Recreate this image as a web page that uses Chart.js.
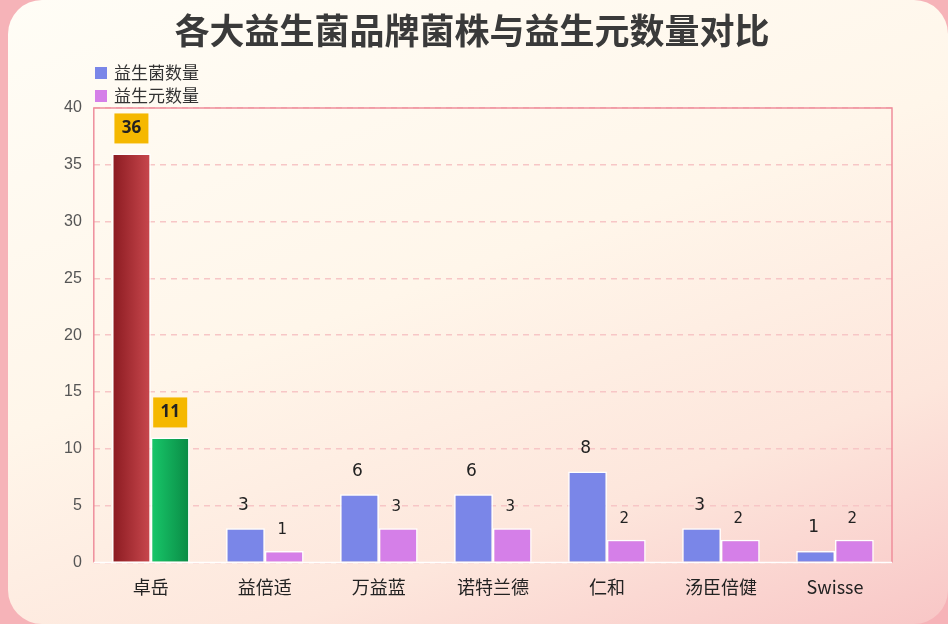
<!DOCTYPE html>
<html><head><meta charset="utf-8">
<script src="https://cdn.jsdelivr.net/npm/chart.js@4/dist/chart.umd.min.js"></script>
<style>
html,body{margin:0;padding:0;width:948px;height:624px;overflow:hidden;background:#f6b3b8;}
#card{position:absolute;left:8px;top:0;width:940px;height:624px;border-radius:34px;
background:linear-gradient(160deg,#fffdf6 0%,#fff6ea 45%,#fde6dc 75%,#f8c6c6 100%);}
#wrap{position:absolute;left:0;top:0;width:948px;height:624px;}
</style></head>
<body><div id="card"></div><div id="wrap"><canvas id="c" width="948" height="624"></canvas></div>
<script>
// data
const brands = ['卓岳', '益倍适', '万益蓝', '诺特兰德', '仁和', '汤臣倍健', 'Swisse'];
const strains = [36, 3, 6, 6, 8, 3, 1];
const prebiotics = [11, 1, 3, 3, 2, 2, 2];
const seriesNames = ['益生菌数量', '益生元数量'];
const seriesColors = ['#7a86e8', '#d57fe8'];

const ctx = document.getElementById('c').getContext('2d');

function grad(c1, c2, fallback) {
  return (context) => {
    const el = context.chart.getDatasetMeta(context.datasetIndex).data[context.dataIndex];
    if (!el || !isFinite(el.x) || !el.width) return fallback;
    const g = context.chart.ctx.createLinearGradient(el.x - el.width / 2, 0, el.x + el.width / 2, 0);
    g.addColorStop(0, c1); g.addColorStop(1, c2);
    return g;
  };
}

const blueFill = (context) => context.dataIndex === 0 ? grad('#8a1a20', '#c9484e', '#a8303a')(context) : seriesColors[0];
const violetFill = (context) => context.dataIndex === 0 ? grad('#18c86a', '#0a8a45', '#12a858')(context) : seriesColors[1];

const labelPlugin = {
  id: 'labels',
  afterDatasetsDraw(chart) {
    const c = chart.ctx;
    chart.data.datasets.forEach((ds, di) => {
      chart.getDatasetMeta(di).data.forEach((bar, i) => {
        const v = ds.data[i];
        c.save();
        c.textAlign = 'center'; c.textBaseline = 'middle';
        if (i === 0) {
          c.font = 'bold 17px "Noto Sans", sans-serif';
          c.fillStyle = '#f5b800';
          c.fillRect(bar.x - 17, bar.y - 40, 34, 30);
          c.fillStyle = '#222';
          c.fillText(v, bar.x, bar.y - 25);
        } else {
          c.font = di === 0 ? '17px "DejaVu Sans", sans-serif' : '15px "DejaVu Sans", sans-serif';
          c.fillStyle = '#222';
          c.fillText(v, bar.x - 2, bar.y - (di === 0 ? 23 : 21));
        }
        c.restore();
      });
    });
  }
};

const borderPlugin = {
  id: 'border',
  afterDraw(chart) {
    const a = chart.chartArea, c = chart.ctx;
    c.save(); c.strokeStyle = '#ef8e9c'; c.lineWidth = 1.5;
    c.beginPath(); c.moveTo(a.left, a.bottom); c.lineTo(a.left, a.top); c.lineTo(a.right, a.top); c.lineTo(a.right, a.bottom); c.stroke();
    c.strokeStyle = '#ffffff'; c.beginPath(); c.moveTo(a.left, a.bottom); c.lineTo(a.right, a.bottom); c.stroke();
    // legend, stacked
    c.font = '17px "Noto Sans CJK SC", sans-serif'; c.textBaseline = 'middle'; c.textAlign = 'left';
    seriesNames.forEach((n, k) => {
      const y = 73 + k * 23;
      c.fillStyle = seriesColors[k]; c.fillRect(95, y - 6, 12, 12);
      c.fillStyle = '#333'; c.fillText(n, 114, y);
    });
    c.restore();
  }
};

const chart = new Chart(ctx, {
  type: 'bar',
  data: {
    labels: brands,
    datasets: [
      { label: seriesNames[0], data: strains, backgroundColor: blueFill, borderColor: '#fff', borderWidth: 1.5,
        barPercentage: 1, categoryPercentage: 0.68 },
      { label: seriesNames[1], data: prebiotics, backgroundColor: violetFill, borderColor: '#fff', borderWidth: 1.5,
        barPercentage: 1, categoryPercentage: 0.68 }
    ]
  },
  options: {
    responsive: false, animation: false,
    layout: { padding: { left: 52, right: 56, top: 0, bottom: 20 } },
    plugins: {
      title: { display: true, text: '各大益生菌品牌菌株与益生元数量对比', color: '#3a3a3a',
        font: { size: 35, weight: 'bold', family: '"Noto Sans CJK SC", serif' }, padding: { top: 10, bottom: 56 } },
      legend: { display: false },
      tooltip: { enabled: false }
    },
    scales: {
      x: { grid: { display: false }, border: { display: false },
        ticks: { color: '#222', font: { size: 18, family: '"Noto Sans CJK SC", sans-serif' }, padding: 6 } },
      y: { min: 0, max: 40, ticks: { stepSize: 5, color: '#555', font: { size: 16 }, padding: 12 },
        border: { display: false, dash: [6, 5] },
        grid: { color: '#f7c6c6', lineWidth: 1.5, drawTicks: false } }
    }
  },
  plugins: [labelPlugin, borderPlugin]
});
chart.update();
</script>
</body></html>
